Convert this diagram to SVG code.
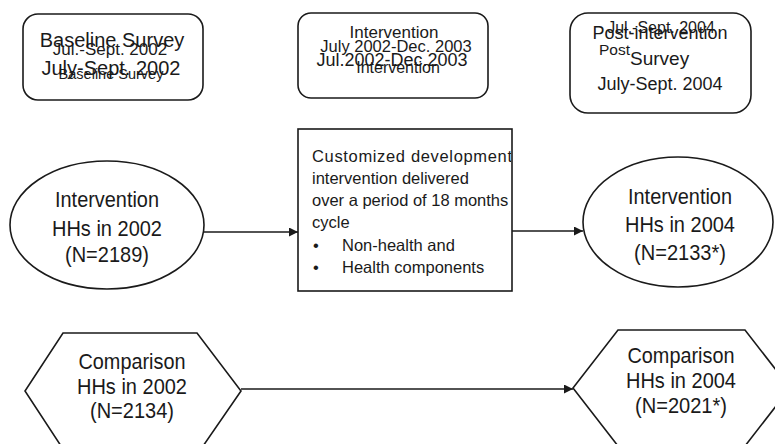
<svg xmlns="http://www.w3.org/2000/svg" width="775" height="444" viewBox="0 0 775 444">
<style>
  .shape { fill: #ffffff; stroke: #1a1a1a; stroke-width: 1.6; }
  .t { font-family: "Liberation Sans", Arial, sans-serif; fill: #1a1a1a; }
  .c { text-anchor: middle; }
  .lab { font-size: 22px; }
  .box { font-size: 16.5px; }
  .conn { stroke: #1a1a1a; stroke-width: 1.6; fill: none; marker-end: url(#arr); }
</style>
<defs>
  <marker id="arr" viewBox="0 0 10 10" refX="10" refY="5" markerWidth="9" markerHeight="9" markerUnits="userSpaceOnUse" orient="auto">
    <path d="M0,0 L10,5 L0,10 Z" fill="#1a1a1a"/>
  </marker>
  <clipPath id="midclip">
    <rect x="298" y="129" width="213" height="162"/>
  </clipPath>
</defs>
<rect width="775" height="444" fill="#ffffff"/>

<g id="baseline-survey">
  <rect class="shape" x="23" y="14" width="180" height="86" rx="15" ry="15"/>
  <text class="t c" x="112" y="47" font-size="20">Baseline Survey</text>
  <text class="t c" x="110" y="55" font-size="17">Jul.-Sept. 2002</text>
  <text class="t c" x="111" y="75" font-size="20">July-Sept. 2002</text>
  <text class="t c" x="111" y="79" font-size="14.5">Baseline Survey</text>
</g>

<g id="intervention-period">
  <rect class="shape" x="298" y="13" width="190" height="85" rx="13" ry="13"/>
  <text class="t c" x="394" y="38" font-size="17">Intervention</text>
  <text class="t c" x="396" y="52" font-size="16.5">July 2002-Dec. 2003</text>
  <text class="t c" x="392" y="66" font-size="18">Jul.2002-Dec.2003</text>
  <text class="t c" x="398" y="73" font-size="16">Intervention</text>
</g>

<g id="post-intervention-survey">
  <rect class="shape" x="570" y="13" width="181" height="100" rx="18" ry="18"/>
  <text class="t c" x="661" y="33" font-size="16">Jul.-Sept. 2004</text>
  <text class="t c" x="660" y="39" font-size="18">Post-intervention</text>
  <text class="t" x="599" y="55" font-size="15.5">Post</text>
  <text class="t" x="630" y="65" font-size="19">Survey</text>
  <text class="t c" x="660" y="90" font-size="18">July-Sept. 2004</text>
</g>

<g id="intervention-2002">
  <ellipse class="shape" cx="107" cy="225" rx="97" ry="64"/>
  <text class="t c lab" x="107" y="207" textLength="104" lengthAdjust="spacingAndGlyphs">Intervention</text>
  <text class="t c lab" x="107" y="236" textLength="110" lengthAdjust="spacingAndGlyphs">HHs in 2002</text>
  <text class="t c lab" x="107" y="262" textLength="84" lengthAdjust="spacingAndGlyphs">(N=2189)</text>
</g>

<g id="customized-intervention">
  <rect class="shape" x="298" y="129" width="214" height="162"/>
  <g clip-path="url(#midclip)">
    <text class="t box" x="312" y="162" textLength="200" lengthAdjust="spacing">Customized development</text>
    <text class="t box" x="312" y="184">intervention delivered</text>
    <text class="t box" x="312" y="206">over a period of 18 months</text>
    <text class="t box" x="312" y="228">cycle</text>
    <text class="t box" x="313" y="251">•</text>
    <text class="t box" x="342" y="251">Non-health and</text>
    <text class="t box" x="313" y="273">•</text>
    <text class="t box" x="342" y="273">Health components</text>
  </g>
</g>

<g id="intervention-2004">
  <ellipse class="shape" cx="678" cy="222" rx="95" ry="65"/>
  <text class="t c lab" x="680" y="204" textLength="104" lengthAdjust="spacingAndGlyphs">Intervention</text>
  <text class="t c lab" x="680" y="232" textLength="110" lengthAdjust="spacingAndGlyphs">HHs in 2004</text>
  <text class="t c lab" x="680" y="260" textLength="92" lengthAdjust="spacingAndGlyphs">(N=2133*)</text>
</g>

<g id="comparison-2002">
  <polygon class="shape" points="63,333 197,333 241,391 201,449 63,449 25,391"/>
  <text class="t c lab" x="132" y="369" textLength="107" lengthAdjust="spacingAndGlyphs">Comparison</text>
  <text class="t c lab" x="132" y="394" textLength="110" lengthAdjust="spacingAndGlyphs">HHs in 2002</text>
  <text class="t c lab" x="132" y="418" textLength="84" lengthAdjust="spacingAndGlyphs">(N=2134)</text>
</g>

<g id="comparison-2004">
  <polygon class="shape" points="618,330 745,330 790,388 745,446 618,446 573,388"/>
  <text class="t c lab" x="681" y="363" textLength="107" lengthAdjust="spacingAndGlyphs">Comparison</text>
  <text class="t c lab" x="681" y="388" textLength="110" lengthAdjust="spacingAndGlyphs">HHs in 2004</text>
  <text class="t c lab" x="681" y="413" textLength="92" lengthAdjust="spacingAndGlyphs">(N=2021*)</text>
</g>

<g id="connectors">
  <line class="conn" x1="204" y1="232" x2="298" y2="232"/>
  <line class="conn" x1="512" y1="231" x2="583" y2="231"/>
  <line class="conn" x1="241" y1="389" x2="573" y2="389"/>
</g>
</svg>
